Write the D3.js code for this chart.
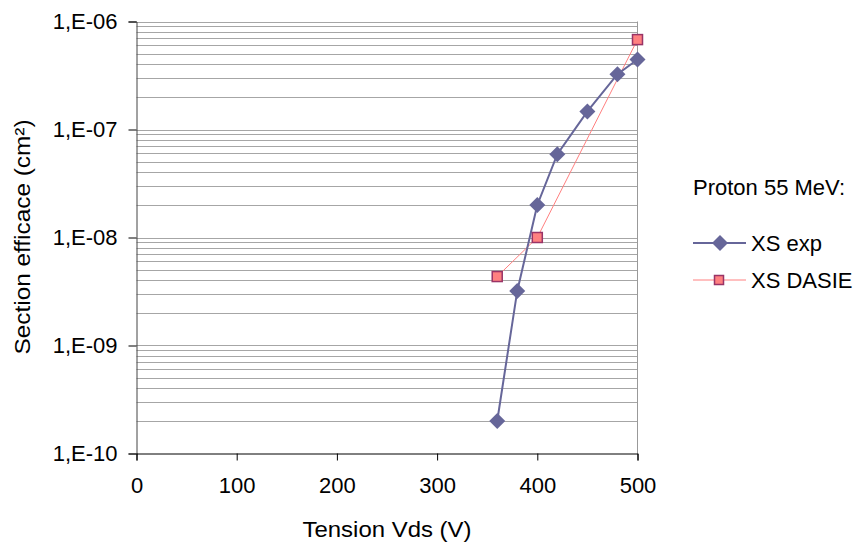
<!DOCTYPE html>
<html><head><meta charset="utf-8">
<script src="https://cdn.jsdelivr.net/npm/d3@7"></script>
<style>body{margin:0;background:#fff}svg{display:block}text{font-family:"Liberation Sans",Arial,sans-serif;fill:#000}</style>
</head><body><svg id="c" width="854" height="546"></svg>
<script>
const xExp = [360, 380, 400, 420, 450, 480, 500];
const yExp = [2e-10, 3.2e-9, 2.0e-8, 5.9e-8, 1.47e-7, 3.25e-7, 4.45e-7];
const xDasie = [360, 400, 500];
const yDasie = [4.35e-9, 1.0e-8, 6.8e-7];
const xTicks = [0, 100, 200, 300, 400, 500];
const yTicks = [1e-10, 1e-9, 1e-8, 1e-7, 1e-6];
const yTickLabels = ["1,E-10", "1,E-09", "1,E-08", "1,E-07", "1,E-06"];
const seriesNames = ["XS exp", "XS DASIE"];
const legendTitle = "Proton 55 MeV:";

const FS = "22px";
const svg = d3.select("#c");
const L = 136.5, R = 637.5, T = 21.5, B = 453.5;
const x = d3.scaleLinear().domain([0, 500]).range([L, R]);
const y = d3.scaleLog().domain([1e-10, 1e-6]).range([B, T]);

// gridlines (major + minor)
const grid = [];
for (let e = -10; e < -6; e++) for (let m = 1; m <= 9; m++) grid.push(m * Math.pow(10, e));
grid.push(1e-6);
svg.append("g").selectAll("line").data(grid.filter(v => v > 1e-10)).join("line")
  .attr("x1", L).attr("x2", R)
  .attr("y1", d => Math.round(y(d)) + 0.5).attr("y2", d => Math.round(y(d)) + 0.5)
  .attr("stroke", "#a6a6a6").attr("stroke-width", 1);
// right border
svg.append("line").attr("x1", R).attr("x2", R).attr("y1", T).attr("y2", B).attr("stroke", "#999").attr("stroke-width", 1);

// y axis
const yAxis = d3.axisLeft(y).tickValues(yTicks).tickFormat((d, i) => yTickLabels[i]).tickSize(8).tickPadding(11);
const gy = svg.append("g").attr("transform", `translate(${L},0)`).call(yAxis);
gy.select(".domain").attr("stroke", "#444");
gy.selectAll(".tick line").attr("stroke", "#000");
gy.selectAll("text").style("font-size", FS).attr("font-family", "Liberation Sans, Arial, sans-serif");

// x axis
const xAxis = d3.axisBottom(x).tickValues(xTicks).tickFormat(d3.format("d")).tickSize(7).tickPadding(17);
const gx = svg.append("g").attr("transform", `translate(0,${B})`).call(xAxis);
gx.select(".domain").attr("stroke", "#000");
gx.selectAll(".tick line").attr("stroke", "#000");
gx.selectAll("text").style("font-size", FS).attr("font-family", "Liberation Sans, Arial, sans-serif");

// axis titles
svg.append("text").attr("x", 387).attr("y", 537).attr("text-anchor", "middle").style("font-size", FS)
  .attr("textLength", 169).attr("lengthAdjust", "spacingAndGlyphs").text("Tension Vds (V)");
svg.append("text").attr("transform", "translate(30,237) rotate(-90)").attr("text-anchor", "middle").style("font-size", FS)
  .attr("textLength", 235).attr("lengthAdjust", "spacingAndGlyphs").text("Section efficace (cm²)");

// series
const expData = xExp.map((v, i) => [v, yExp[i]]);
const dasData = xDasie.map((v, i) => [v, yDasie[i]]);
const line = d3.line().x(d => x(d[0])).y(d => y(d[1]));
svg.append("path").datum(dasData).attr("d", line).attr("fill", "none").attr("stroke", "#ff8080").attr("stroke-width", 1);
svg.append("path").datum(expData).attr("d", line).attr("fill", "none").attr("stroke", "#666699").attr("stroke-width", 2);

const diamond = d3.symbol().type(d3.symbolSquare).size(128);
svg.append("g").selectAll("path").data(expData).join("path")
  .attr("d", diamond).attr("transform", d => `translate(${x(d[0])},${y(d[1])}) rotate(45)`)
  .attr("fill", "#666699");
svg.append("g").selectAll("rect").data(dasData).join("rect")
  .attr("x", d => x(d[0]) - 5).attr("y", d => y(d[1]) - 5).attr("width", 10).attr("height", 10)
  .attr("fill", "#ff8080").attr("stroke", "#993366").attr("stroke-width", 1.5);

// legend
svg.append("text").attr("x", 693).attr("y", 195).style("font-size", FS).text(legendTitle);
const lg = svg.append("g");
lg.append("line").attr("x1", 693).attr("x2", 746).attr("y1", 243).attr("y2", 243).attr("stroke", "#666699").attr("stroke-width", 2);
lg.append("path").attr("d", diamond).attr("transform", "translate(720,243) rotate(45)").attr("fill", "#666699");
lg.append("text").attr("x", 751).attr("y", 251).style("font-size", FS).text(seriesNames[0]);
lg.append("line").attr("x1", 693).attr("x2", 746).attr("y1", 280).attr("y2", 280).attr("stroke", "#ff8080").attr("stroke-width", 1);
lg.append("rect").attr("x", 714.5).attr("y", 275.5).attr("width", 9).attr("height", 9).attr("fill", "#ff8080").attr("stroke", "#993366").attr("stroke-width", 1.5);
lg.append("text").attr("x", 751).attr("y", 288).style("font-size", FS).text(seriesNames[1]);
</script></body></html>
